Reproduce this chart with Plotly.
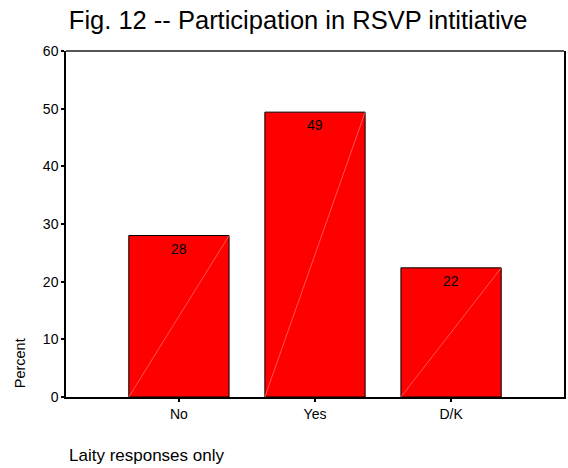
import plotly.graph_objects as go

categories = ["No", "Yes", "D/K"]
percent = [28.0, 49.4, 22.4]
labels = ["28", "49", "22"]
y_ticks = [0, 10, 20, 30, 40, 50, 60]

BAR_W = 0.737
FONT = "Arial, Liberation Sans, sans-serif"

fig = go.Figure()
fig.add_trace(go.Bar(
    x=list(range(len(categories))), y=percent,
    width=BAR_W,
    marker=dict(color="#FF0000", line=dict(color="#000000", width=1)),
    hoverinfo="skip",
))

shapes = []
annotations = []
for i, v in enumerate(percent):
    shapes.append(dict(type="line", xref="x", yref="y",
                       x0=i - BAR_W / 2, y0=0, x1=i + BAR_W / 2, y1=v,
                       line=dict(color="#FF8C8C", width=0.6)))
    annotations.append(dict(x=i, y=v, xref="x", yref="y", text=labels[i],
                            showarrow=False, yanchor="top", yshift=-3,
                            font=dict(family=FONT, size=14, color="#000000")))

# top border (gray)
shapes.append(dict(type="line", xref="paper", yref="paper", x0=0, x1=1, y0=1, y1=1,
                   line=dict(color="#555555", width=2)))

annotations.append(dict(text="Percent", xref="paper", yref="paper", x=-0.092, y=0.098,
                        textangle=-90, showarrow=False, xanchor="center", yanchor="middle",
                        font=dict(family=FONT, size=14.5, color="#000000")))
annotations.append(dict(text="Laity responses only", xref="paper", yref="paper",
                        x=0.002, y=-0.17, xanchor="left", yanchor="middle", showarrow=False,
                        font=dict(family=FONT, size=17, color="#000000")))

fig.update_layout(
    width=568, height=468,
    margin=dict(l=66, r=2, t=51, b=71),
    paper_bgcolor="white", plot_bgcolor="white",
    showlegend=False,
    title=dict(text="Fig. 12 -- Participation in RSVP intitiative",
               x=0.525, xanchor="center", y=0.958, yanchor="middle",
               font=dict(family=FONT, size=25.5, color="#000000")),
    shapes=shapes,
    annotations=annotations,
    xaxis=dict(
        range=[-0.83, len(categories) - 1 + 0.83],
        tickmode="array", tickvals=list(range(len(categories))), ticktext=categories,
        showline=True, linecolor="#000000", linewidth=2,
        ticks="outside", ticklen=3, tickwidth=2, tickcolor="#000000",
        showgrid=False, zeroline=False,
        tickfont=dict(family=FONT, size=14, color="#000000"),
    ),
    yaxis=dict(
        range=[0, 60], tickvals=y_ticks,
        showline=True, linecolor="#000000", linewidth=1.5, mirror=True,
        ticks="outside", ticklen=3, tickwidth=2, tickcolor="#000000",
        showgrid=False, zeroline=False,
        tickfont=dict(family=FONT, size=14, color="#000000"),
    ),
)

fig.write_html("out.html",
               config={"displayModeBar": False},
               post_script="document.body.style.margin='0';document.body.style.overflow='hidden';")
